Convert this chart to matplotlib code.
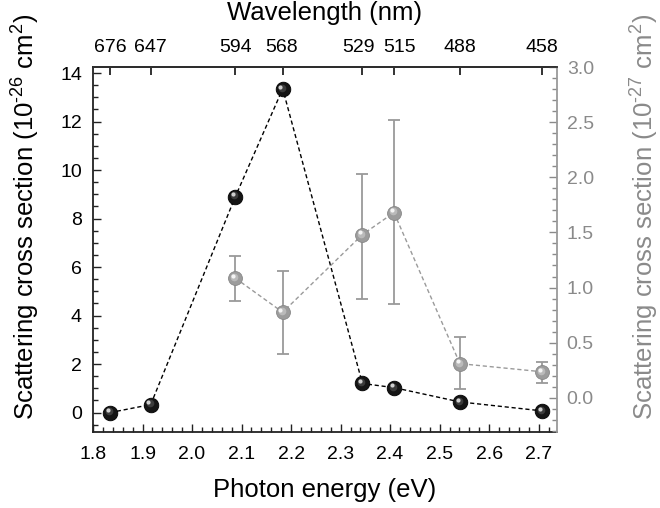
import matplotlib
matplotlib.use("Agg")
import matplotlib.pyplot as plt
import matplotlib.transforms as mtrans
import numpy as np

plt.rcParams['font.family'] = ['Liberation Sans', 'DejaVu Sans']
plt.rcParams['mathtext.fontset'] = 'custom'
plt.rcParams['mathtext.rm'] = 'Liberation Sans'
plt.rcParams['mathtext.it'] = 'Liberation Sans:italic'
plt.rcParams['mathtext.bf'] = 'Liberation Sans:bold'

wavelengths = [676, 647, 594, 568, 529, 515, 488, 458]
energy = [1240.0 / w for w in wavelengths]
black_vals = [0.0, 0.33, 8.91, 13.35, 1.2, 1.03, 0.44, 0.07]

gray_wl = [594, 568, 529, 515, 488, 458]
gray_energy = [1240.0 / w for w in gray_wl]
gray_vals = [1.085, 0.776, 1.48, 1.68, 0.31, 0.236]
gray_err_hi = [1.29, 1.15, 2.03, 2.52, 0.55, 0.327]
gray_err_lo = [0.88, 0.40, 0.90, 0.85, 0.076, 0.136]

# small horizontal label nudges (points) so close top labels do not collide
top_label_shift = [0, 0, 0, -1, -3, 4, 0, 0]

GRAY = '#9a9a9a'
GRAYTXT = '#8a8a8a'
TICK_FS = 14
LABEL_FS = 18.5

fig = plt.figure(figsize=(6.6, 5.08), dpi=100)
ax = fig.add_axes([93/660, 1-432/508, (557-93)/660, (432-67)/508])
ax2 = ax.twinx()

hl = mtrans.ScaledTranslation(-1.6/72, 1.6/72, fig.dpi_scale_trans)
hl2 = mtrans.ScaledTranslation(-0.8/72, 0.8/72, fig.dpi_scale_trans)

# Left (black) series
ax.plot(energy, black_vals, linestyle=(0, (3, 2)), color='black', lw=1.0, zorder=2)
ax.plot(energy, black_vals, linestyle='none', marker='o', ms=10.5,
        mfc='#151515', mec='#000000', mew=0.6, zorder=3)
ax.plot(energy, black_vals, linestyle='none', marker='o', ms=5.5,
        mfc='#555555', mec='none', alpha=0.6, zorder=4, transform=ax.transData + hl2)
ax.plot(energy, black_vals, linestyle='none', marker='o', ms=3.0,
        mfc='#e0e0e0', mec='none', alpha=0.9, zorder=5, transform=ax.transData + hl)

# Right (gray) series
yerr = [np.array(gray_vals) - np.array(gray_err_lo), np.array(gray_err_hi) - np.array(gray_vals)]
ax2.errorbar(gray_energy, gray_vals, yerr=yerr, fmt='none', ecolor=GRAY, elinewidth=1.3,
             capsize=4, capthick=1.3, zorder=2)
ax2.plot(gray_energy, gray_vals, linestyle=(0, (3, 2)), color=GRAY, lw=1.0, zorder=2)
ax2.plot(gray_energy, gray_vals, linestyle='none', marker='o', ms=10,
         mfc='#9c9c9c', mec='#888888', mew=0.6, zorder=3)
ax2.plot(gray_energy, gray_vals, linestyle='none', marker='o', ms=5.5,
         mfc='#c8c8c8', mec='none', alpha=0.7, zorder=4, transform=ax2.transData + hl2)
ax2.plot(gray_energy, gray_vals, linestyle='none', marker='o', ms=3.0,
         mfc='#f8f8f8', mec='none', alpha=0.95, zorder=5, transform=ax2.transData + hl)

ax.set_xlim(1.80, 2.737)
ax.set_ylim(-0.8, 14.25)
ax2.set_ylim(-0.31, 3.0)

ax.set_xticks(np.arange(1.8, 2.71, 0.1))
ax.set_xticklabels([f"{v:.1f}" for v in np.arange(1.8, 2.71, 0.1)])
ax.set_xticks(np.arange(1.8, 2.737, 0.02), minor=True)
ax.set_yticks(np.arange(0, 15, 2))
ax.set_yticks(np.arange(-0.5, 14.3, 0.5), minor=True)
ax2.set_yticks(np.arange(0, 3.01, 0.5))
ax2.set_yticklabels([f"{v:.1f}" for v in np.arange(0, 3.01, 0.5)])
ax2.set_yticks(np.arange(-0.3, 3.01, 0.1), minor=True)

ax.tick_params(axis='both', which='both', direction='in', labelsize=TICK_FS, color='#222222', width=1.0)
ax.tick_params(axis='both', which='major', length=6)
ax.tick_params(axis='both', which='minor', length=3.5)
ax.tick_params(axis='x', pad=10)
ax.tick_params(axis='y', right=False, pad=8)
ax2.tick_params(axis='y', which='both', direction='in', labelsize=TICK_FS, colors=GRAYTXT, width=1.0, pad=7)
ax2.tick_params(axis='y', which='major', length=6)
ax2.tick_params(axis='y', which='minor', length=3.5)

for s in ['left', 'bottom', 'top']:
    ax.spines[s].set_linewidth(1.3)
    ax2.spines[s].set_linewidth(1.3)
ax.spines['left'].set_color('#222222')
ax.spines['bottom'].set_color('#222222')
ax2.spines['top'].set_color('#333333')
ax2.spines['right'].set_color(GRAY)
ax2.spines['right'].set_linewidth(1.3)
ax.spines['right'].set_visible(False)
ax2.spines['left'].set_visible(False)
ax2.spines['bottom'].set_visible(False)

# Top wavelength axis: ticks at the photon energies of each wavelength
secx = ax.secondary_xaxis('top')
secx.set_xticks(energy)
secx.set_xticklabels([])
secx.tick_params(direction='in', length=6, width=1.3, pad=8, color='#222222')
secx.spines['top'].set_linewidth(1.3)
secx.spines['top'].set_color('#333333')
for e, w, dx in zip(energy, wavelengths, top_label_shift):
    ax.annotate(str(w), xy=(e, 1.0), xycoords=('data', 'axes fraction'),
                xytext=(dx, 8), textcoords='offset points',
                ha='center', va='bottom', fontsize=TICK_FS, annotation_clip=False)
ax.text(0.5, 1.0, 'Wavelength (nm)',
        transform=ax.transAxes + mtrans.ScaledTranslation(0, 54/100, fig.dpi_scale_trans),
        ha='center', va='center', fontsize=18.5)

ax.set_xlabel('Photon energy (eV)', fontsize=LABEL_FS, labelpad=11)
ax.set_ylabel(r'Scattering cross section (10$^{\text{-26}}$ cm$^{2}$)', fontsize=LABEL_FS)
ax2.set_ylabel(r'Scattering cross section (10$^{\text{-27}}$ cm$^{2}$)', fontsize=LABEL_FS, color=GRAYTXT)
ax.yaxis.set_label_coords((42 - 93) / 464, 0.59)
ax2.yaxis.set_label_coords((629 - 93) / 464, 0.59)

fig.savefig('out.png', dpi=100)
